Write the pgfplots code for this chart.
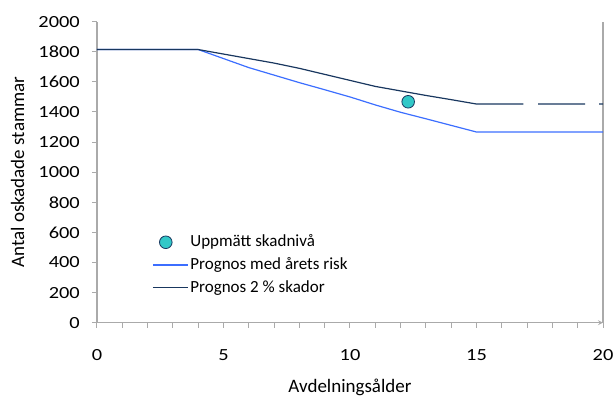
\documentclass[border=0pt]{standalone}
\usepackage{pgfplots}
\pgfplotsset{compat=1.18}
\usepackage{fontspec}
\setmainfont{Carlito}
\newfontfamily\tickfont{Carlito}[FakeStretch=1.2]
\definecolor{bl}{RGB}{60,110,255}
\definecolor{dk}{RGB}{25,55,95}
\definecolor{tl}{RGB}{50,200,200}
\definecolor{ax}{RGB}{170,170,170}
\pgfplotsset{
  myline/.style={legend image code/.code={\draw[##1] (0pt,0pt) -- (35pt,0pt);}},
  mymark/.style={legend image code/.code={\draw[##1] plot coordinates {(13pt,0pt)};}},
}
\begin{document}
\fontsize{18}{21}\selectfont
\begin{tikzpicture}[x=1pt,y=1pt]
\begin{axis}[
  scale only axis, width=506pt, height=301pt,
  xmin=0, xmax=20, ymin=0, ymax=2000,
  axis x line=bottom, axis y line=box,
  axis line style={ax, line width=1.2pt},
  xtick={0,5,10,15,20}, minor x tick num=4,
  ytick={0,200,...,2000}, ytick pos=left,
  tick style={ax, line width=1pt},
  tick align=outside,
  major tick length=5pt, minor tick length=5pt,
  /pgf/number format/assume math mode=true,
  /pgf/number format/1000 sep={},
  tick label style={font=\tickfont\fontsize{17}{20}\selectfont, text=black},
  xticklabel style={yshift=-16pt},
  yticklabel style={xshift=-6pt},
  xlabel={Avdelningsålder}, ylabel={Antal oskadade stammar},
  label style={font=\fontsize{19}{22}\selectfont},
  xlabel style={yshift=-6pt},
  ylabel style={yshift=2pt},
  legend style={draw=none, fill=none, at={(55pt,90pt)}, anchor=north west,
    font=\fontsize{17}{20}\selectfont, row sep=4pt, inner sep=0pt},
  legend cell align=left,
  unbounded coords=jump,
]
\addplot[only marks, mark=*, mark size=6.3pt, mark options={fill=tl, draw=dk, line width=0.8pt}, mymark]
  coordinates {(12.3,1468)};
\addlegendentry{Uppmätt skadnivå}
\addplot[bl, line width=1.2pt, myline] coordinates {
(0,1815)(4,1815)(5,1755)(6,1695)(7,1645)(8,1595)(9,1548)(10,1500)(11,1447)(12,1398)(13,1355)(14,1311)(15,1267)(20,1267)};
\addlegendentry{Prognos med årets risk}
\addplot[dk, line width=1.2pt, myline] coordinates {
(0,1815)(4,1815)(5,1785)(6,1755)(7,1725)(8,1690)(9,1650)(10,1610)(11,1570)(12,1540)(13,1510)(14,1482)(15,1453)(16.85,1453)(16.86,nan)(17.44,1453)(19.29,1453)(19.3,nan)(19.85,1453)(20,1453)};
\addlegendentry{Prognos 2 \% skador}
\end{axis}
\pgfresetboundingbox
\path (-97pt,-73.3pt) rectangle (517pt,322.7pt);
\end{tikzpicture}
\end{document}
